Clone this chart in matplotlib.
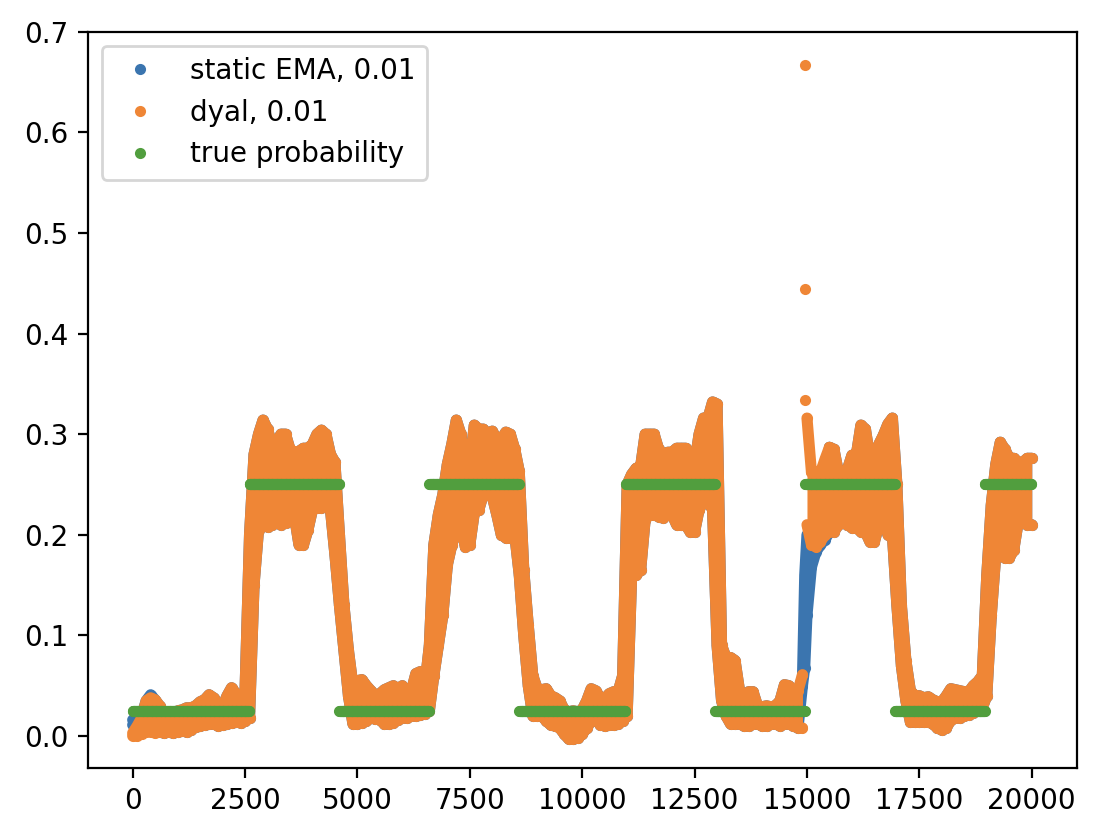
import matplotlib
matplotlib.use("Agg")
import matplotlib.pyplot as plt
import numpy as np

# colours as they appear in the screenshot (tab10 on a P3 display)
BLUE = "#3b75af"
ORANGE = "#ef8636"
GREEN = "#519e3e"

# sample positions of the read-off envelopes, every 100 steps
steps = list(range(0, 20001, 100))

# dyal, 0.01: lower / upper edge of the dot cloud, one row per 1000 steps
dyal_lo = [
    0.000, 0.000, 0.002, 0.004, 0.004, 0.003, 0.004, 0.003, 0.004, 0.003,
    0.004, 0.005, 0.004, 0.006, 0.009, 0.010, 0.011, 0.012, 0.012, 0.010,
    0.011, 0.012, 0.013, 0.014, 0.013, 0.015, 0.018, 0.150, 0.205, 0.210,
    0.208, 0.210, 0.212, 0.210, 0.212, 0.220, 0.218, 0.190, 0.190, 0.205,
    0.225, 0.227, 0.227, 0.230, 0.225, 0.180, 0.130, 0.085, 0.040, 0.012,
    0.012, 0.013, 0.015, 0.018, 0.017, 0.016, 0.012, 0.012, 0.013, 0.016,
    0.018, 0.018, 0.020, 0.020, 0.021, 0.022, 0.025, 0.060, 0.090, 0.120,
    0.170, 0.190, 0.205, 0.210, 0.188, 0.190, 0.222, 0.225, 0.240, 0.240,
    0.238, 0.220, 0.200, 0.197, 0.197, 0.200, 0.160, 0.100, 0.050, 0.020,
    0.020, 0.020, 0.015, 0.011, 0.010, 0.008, 0.002, -0.003, -0.003, -0.002,
    0.002, 0.008, 0.015, 0.017, 0.011, 0.010, 0.011, 0.011, 0.012, 0.015,
    0.020, 0.160, 0.160, 0.165, 0.215, 0.220, 0.220, 0.218, 0.217, 0.220,
    0.220, 0.210, 0.210, 0.210, 0.203, 0.203, 0.225, 0.233, 0.233, 0.225,
    0.090, 0.035, 0.020, 0.012, 0.012, 0.012, 0.010, 0.010, 0.012, 0.012,
    0.010, 0.010, 0.012, 0.012, 0.010, 0.012, 0.012, 0.010, 0.008, 0.008,
    0.210, 0.190, 0.188, 0.193, 0.200, 0.203, 0.203, 0.210, 0.213, 0.210,
    0.207, 0.207, 0.203, 0.203, 0.193, 0.193, 0.210, 0.227, 0.200, 0.200,
    0.130, 0.070, 0.035, 0.014, 0.014, 0.014, 0.014, 0.014, 0.012, 0.008,
    0.006, 0.008, 0.016, 0.018, 0.018, 0.020, 0.021, 0.023, 0.026, 0.028,
    0.040, 0.120, 0.180, 0.180, 0.177, 0.177, 0.185, 0.213, 0.213, 0.210,
    0.210,
]
dyal_hi = [
    0.003, 0.010, 0.018, 0.035, 0.038, 0.036, 0.030, 0.022, 0.020, 0.022,
    0.025, 0.026, 0.028, 0.028, 0.030, 0.034, 0.036, 0.041, 0.038, 0.030,
    0.029, 0.040, 0.048, 0.042, 0.035, 0.045, 0.200, 0.280, 0.300, 0.314,
    0.305, 0.289, 0.292, 0.300, 0.300, 0.285, 0.282, 0.283, 0.286, 0.286,
    0.290, 0.300, 0.304, 0.300, 0.280, 0.272, 0.200, 0.130, 0.085, 0.050,
    0.055, 0.056, 0.050, 0.045, 0.040, 0.042, 0.046, 0.048, 0.050, 0.047,
    0.050, 0.040, 0.045, 0.062, 0.064, 0.050, 0.090, 0.190, 0.220, 0.240,
    0.270, 0.290, 0.314, 0.300, 0.265, 0.270, 0.309, 0.305, 0.305, 0.300,
    0.303, 0.295, 0.295, 0.302, 0.300, 0.285, 0.263, 0.165, 0.110, 0.060,
    0.047, 0.046, 0.047, 0.040, 0.038, 0.035, 0.026, 0.024, 0.025, 0.024,
    0.026, 0.035, 0.047, 0.045, 0.038, 0.037, 0.042, 0.044, 0.044, 0.060,
    0.250, 0.260, 0.266, 0.268, 0.300, 0.300, 0.300, 0.285, 0.272, 0.282,
    0.282, 0.286, 0.286, 0.286, 0.270, 0.270, 0.300, 0.316, 0.316, 0.332,
    0.330, 0.090, 0.078, 0.078, 0.075, 0.045, 0.031, 0.044, 0.044, 0.030,
    0.029, 0.030, 0.029, 0.030, 0.035, 0.051, 0.050, 0.030, 0.045, 0.061,
    0.316, 0.262, 0.262, 0.262, 0.275, 0.287, 0.285, 0.262, 0.260, 0.265,
    0.279, 0.280, 0.309, 0.305, 0.276, 0.276, 0.290, 0.299, 0.310, 0.316,
    0.250, 0.130, 0.075, 0.045, 0.040, 0.040, 0.038, 0.039, 0.036, 0.034,
    0.034, 0.040, 0.047, 0.046, 0.045, 0.044, 0.044, 0.050, 0.054, 0.060,
    0.160, 0.230, 0.270, 0.292, 0.285, 0.276, 0.276, 0.272, 0.272, 0.276,
    0.276,
]
# dyal restarts between these two samples, so its cloud is not joined there
dyal_break = 15000

# dyal restart right after the switch: three lone points
spike_step = [14960, 14960, 14960]
spike_val = [0.667, 0.444, 0.334]

# static EMA, 0.01: lies under dyal except at the very start and after 14960
ema_start_lo = [0.011, 0.012, 0.013, 0.015, 0.016, 0.015]
ema_start_hi = [0.016, 0.017, 0.020, 0.035, 0.041, 0.036]
ema_switch_steps = [14900, 14950, 15000, 15100, 15200, 15300, 15400]
ema_switch_lo = [0.050, 0.068, 0.120, 0.168, 0.183, 0.190, 0.195]
ema_switch_hi = [0.058, 0.160, 0.200, 0.200, 0.200, 0.205, 0.210]

# true probability: segment start, end and level
seg_start = [0, 2600, 4600, 6600, 8600, 10970, 12960, 14960, 16960, 18960]
seg_end = [2600, 4600, 6600, 8600, 10970, 12960, 14960, 16960, 18960, 20000]
seg_level = [0.025, 0.25, 0.025, 0.25, 0.025, 0.25, 0.025, 0.25, 0.025, 0.25]

DOT_PT = 4.0  # '.' marker incl. its edge, in points


def draw_cloud(ax, x, lo, hi, color, label, z, breaks=()):
    # dense dots: filled band between the edges, edges traced as thick round lines
    x = np.asarray(x, dtype=float)
    lo = np.asarray(lo)
    hi = np.asarray(hi)
    cuts = [0] + [int(np.searchsorted(x, b)) for b in breaks] + [len(x)]
    for a, b in zip(cuts[:-1], cuts[1:]):
        ax.fill_between(x[a:b], lo[a:b], hi[a:b], color=color, lw=0, zorder=z)
        for edge in (lo[a:b], hi[a:b]):
            ax.plot(x[a:b], edge, "-", color=color, lw=DOT_PT,
                    solid_capstyle="round", solid_joinstyle="round", zorder=z)
    ax.plot(x, lo, ".", color=color, zorder=z + 0.05)
    ax.plot(x, hi, ".", color=color, zorder=z + 0.05, label=label)


def ema_series():
    # start from dyal (where the two coincide) and put in the EMA readings
    lo = list(dyal_lo)
    hi = list(dyal_hi)
    lo[:len(ema_start_lo)] = ema_start_lo
    hi[:len(ema_start_hi)] = ema_start_hi
    a, b = ema_switch_steps[0], ema_switch_steps[-1]
    keep_before = [i for i, s in enumerate(steps) if s < a]
    keep_after = [i for i, s in enumerate(steps) if s > b]
    x = [steps[i] for i in keep_before] + ema_switch_steps + [steps[i] for i in keep_after]
    lo = [lo[i] for i in keep_before] + ema_switch_lo + [lo[i] for i in keep_after]
    hi = [hi[i] for i in keep_before] + ema_switch_hi + [hi[i] for i in keep_after]
    return x, lo, hi


def main():
    ema_x, ema_lo, ema_hi = ema_series()

    dpi = 200
    fig = plt.figure(figsize=(1108 / dpi, 832 / dpi), dpi=dpi)
    ax = fig.add_axes([87.7 / 1108, 1 - 767.7 / 832, 989 / 1108, 736 / 832])

    draw_cloud(ax, ema_x, ema_lo, ema_hi, BLUE, "static EMA, 0.01", 2.0)
    draw_cloud(ax, steps, dyal_lo, dyal_hi, ORANGE, "dyal, 0.01", 2.2,
               breaks=[dyal_break])
    ax.plot(spike_step, spike_val, ".", color=ORANGE, zorder=2.25)

    gx, gy = [], []
    for a, b, v in zip(seg_start, seg_end, seg_level):
        pts = np.arange(a, b, 10)
        gx.extend(pts)
        gy.extend([v] * len(pts))
    ax.plot(gx, gy, ".", color=GREEN, zorder=2.4, label="true probability")

    ax.set_xlim(-1000, 21000)
    ax.set_ylim(-0.0315, 0.7)
    ax.legend(loc="upper left")

    fig.savefig("out.png", dpi=dpi)


if __name__ == "__main__":
    main()
